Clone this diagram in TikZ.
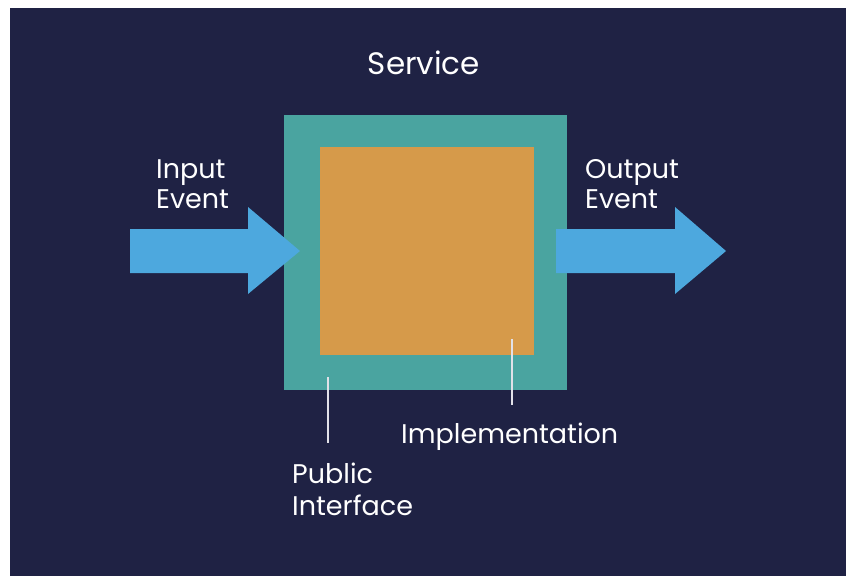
\documentclass[tikz,border=0pt]{standalone}
\usepackage{fontspec}
\setmainfont{Poppins}
\definecolor{navy}{RGB}{31,34,68}
\definecolor{teal}{RGB}{74,164,160}
\definecolor{orangebox}{RGB}{214,154,74}
\definecolor{arrowblue}{RGB}{77,168,222}
\definecolor{tickline}{RGB}{225,225,232}
\begin{document}
\begin{tikzpicture}[x=1pt,y=-1pt,
  lbl/.style={text=white,inner sep=0pt,font=\fontsize{27}{30}\selectfont,align=left,anchor=base west},
  ttl/.style={text=white,inner sep=0pt,font=\fontsize{31}{36}\selectfont,anchor=base},
  blk/.style={fill=arrowblue,draw=none},
  tick/.style={draw=tickline,line width=2pt}]
\useasboundingbox (0,0) rectangle (856,588);
\fill[white] (0,0) rectangle (856,588);
\fill[navy] (10,8) rectangle (846,576);
% boxes
\node[fill=teal,minimum width=283pt,minimum height=275pt,inner sep=0pt,anchor=north west] (iface) at (284,115) {};
\node[fill=orangebox,minimum width=214pt,minimum height=208pt,inner sep=0pt,anchor=north west] (impl) at (320,147) {};
% arrows
\fill[blk] (130,229) -- (248,229) -- (248,207) -- (300,251) -- (248,294) -- (248,273) -- (130,273) -- cycle;
\fill[blk] (556,229) -- (675,229) -- (675,207) -- (726,251) -- (675,294) -- (675,273) -- (556,273) -- cycle;
% texts
\node[ttl] (service) at (424,75) {Service};
\node[lbl] (input) at (156,208) {Input\\Event};
\node[lbl] (output) at (585,208) {Output\\Event};
\node[lbl] (impllbl) at (401,443) {Implementation};
\node[lbl,font=\fontsize{27}{32}\selectfont] (public) at (292,515) {Public\\Interface};
% pointer lines
\coordinate (p1) at (328,377);
\coordinate (p2) at (328,443);
\coordinate (q1) at (512,339);
\coordinate (q2) at (512,405);
\draw[tick] (p1) -- (p2);
\draw[tick] (q1) -- (q2);
\end{tikzpicture}
\end{document}
